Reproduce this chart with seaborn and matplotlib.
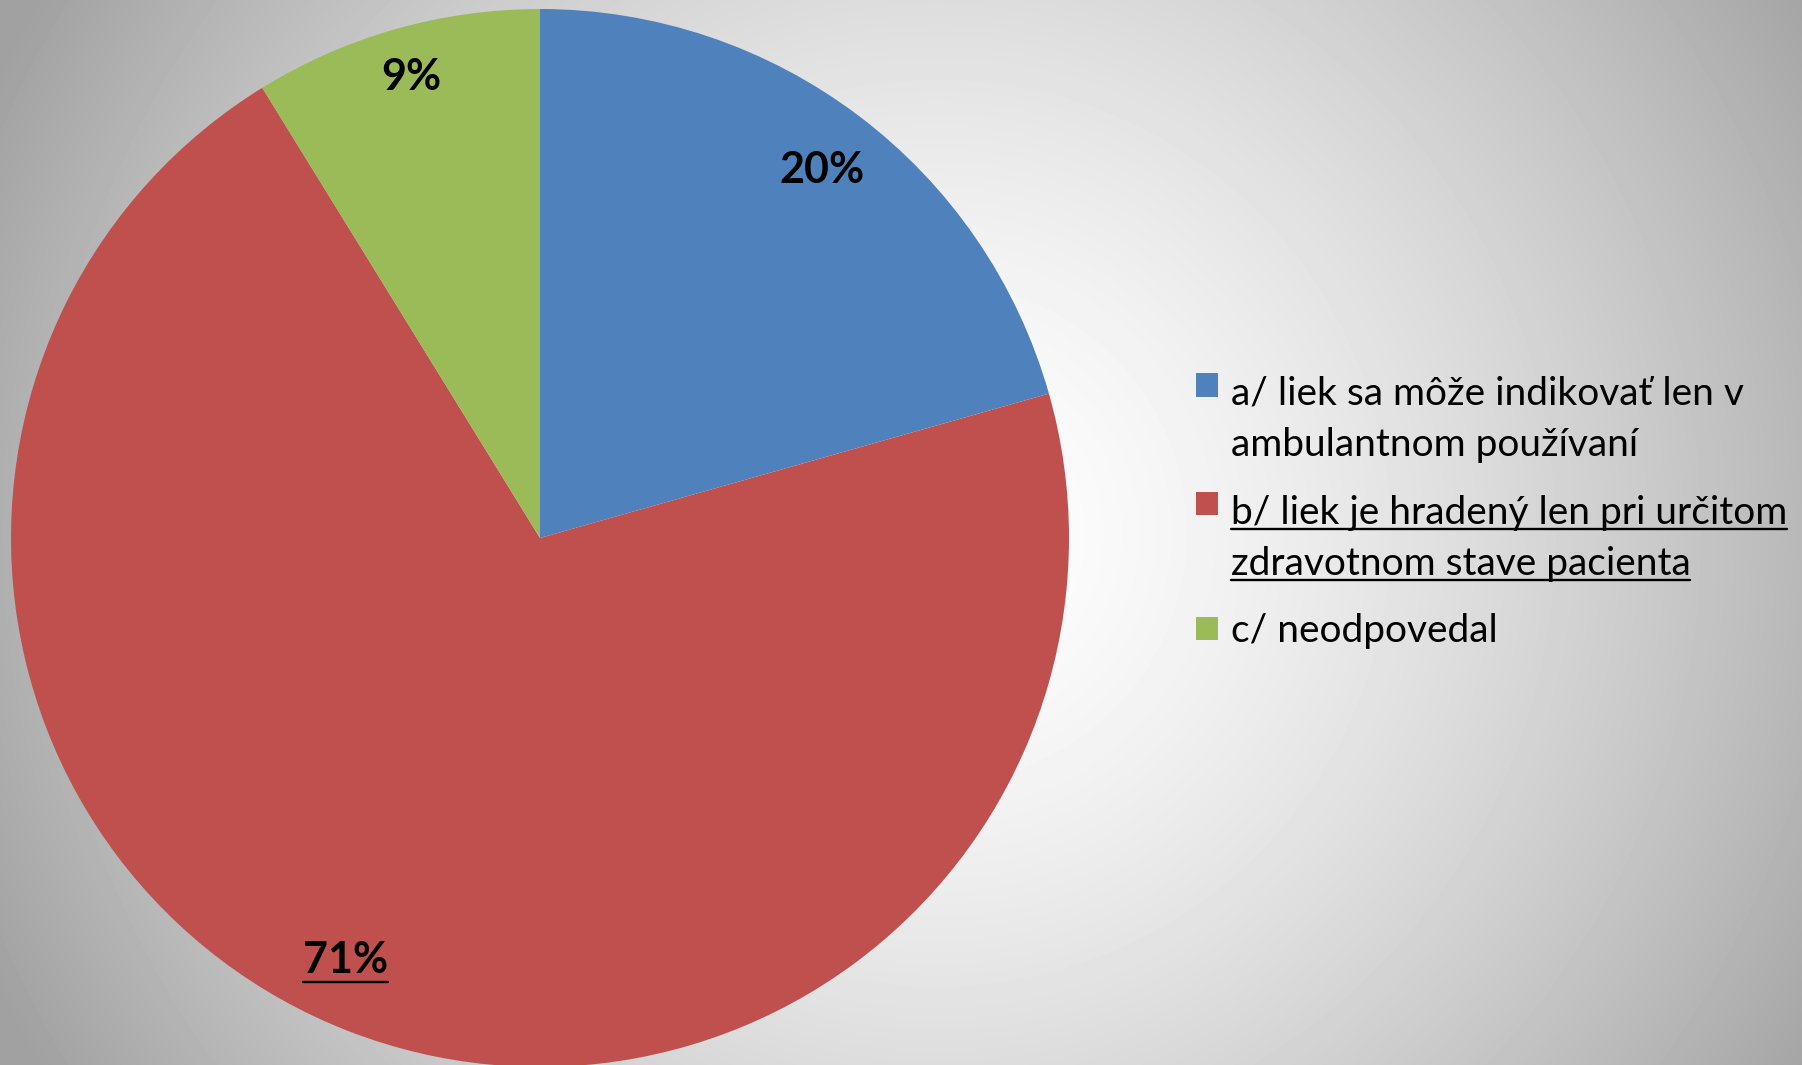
import numpy as np
import matplotlib
matplotlib.use("Agg")
import matplotlib.pyplot as plt
import seaborn as sns
from matplotlib.patches import Rectangle
from matplotlib.legend_handler import HandlerPatch
from matplotlib.lines import Line2D

# survey answers (legend), slice shares, printed labels
answers = ["a/ liek sa môže indikovať len v\nambulantnom používaní",
           "b/ liek je hradený len pri určitom\nzdravotnom stave pacienta",
           "c/ neodpovedal"]
shares = [20.6, 70.6, 8.8]
pct_labels = ["20%", "71%", "9%"]
colors = ["#4F81BD", "#C0504D", "#9BBB59"]

sns.set_theme(style="white")
plt.rcParams["font.family"] = ["Lato", "DejaVu Sans"]

W, H = 1802, 1065
fig = plt.figure(figsize=(W / 100, H / 100), dpi=100)

# radial grey background, white in the middle
bg = fig.add_axes([0, 0, 1, 1], zorder=0)
yy, xx = np.mgrid[0:H, 0:W]
d = np.hypot(xx - W * 0.52, yy - H / 2) / np.hypot(W / 2, H / 2)
shade = 1 - (1 - 0.63) * np.clip(d, 0, 1) ** 1.5
bg.imshow(shade, cmap="gray", vmin=0, vmax=1, aspect="auto",
          extent=[0, 1, 0, 1], interpolation="bilinear")
bg.axis("off")

# pie
cx, cy, r = 540, 538, 529
ax = fig.add_axes([(cx - r) / W, (H - cy - r) / H, 2 * r / W, 2 * r / H], zorder=1)
ax.patch.set_alpha(0)
lab_iter = iter(pct_labels)
wedges, _, autotexts = ax.pie(shares, colors=colors, startangle=90, counterclock=False,
                              radius=1, autopct=lambda p: next(lab_iter), pctdistance=0.88,
                              textprops=dict(fontsize=31, fontweight="bold", color="black"),
                              wedgeprops=dict(linewidth=0))
ax.set_xlim(-1, 1)
ax.set_ylim(-1, 1)

# label placement (radius, angle in degrees) as in the original
label_pos = [(0.876, 52.6), (0.878, 245.3), (0.905, 105.6)]
for t, (lr, la) in zip(autotexts, label_pos):
    t.set_position((lr * np.cos(np.radians(la)), lr * np.sin(np.radians(la))))


class TopSquare(HandlerPatch):
    # square aligned with the first line of a wrapped label
    def __init__(self, shift):
        super().__init__()
        self.shift = shift

    def create_artists(self, legend, orig_handle, xdescent, ydescent,
                       width, height, fontsize, trans):
        p = Rectangle((-xdescent, -ydescent + self.shift), width, height,
                      facecolor=orig_handle.get_facecolor(), edgecolor="none",
                      transform=trans)
        return [p]


fs = 28
ls = 1.52
shift = 0.5 * ls * 1.2 * fs
hmap = {wedges[0]: TopSquare(shift), wedges[1]: TopSquare(shift), wedges[2]: TopSquare(0)}
leg = fig.legend(wedges, answers, loc="upper left", bbox_to_anchor=(1196 / W, 1 - 376 / H),
                 frameon=False, fontsize=fs, handlelength=0.56, handleheight=0.56,
                 handletextpad=0.33, labelspacing=0.81, borderpad=0, borderaxespad=0,
                 handler_map=hmap)
for t in leg.get_texts():
    t.set_linespacing(ls)
    t.set_color("black")

# underlines
fig.canvas.draw()
rend = fig.canvas.get_renderer()


def hline(x0, x1, y):
    fig.add_artist(Line2D([x0 / W, x1 / W], [y / H, y / H], transform=fig.transFigure,
                          color="black", linewidth=1.7))


def text_size(s):
    tmp = fig.text(0, 0, s, fontsize=fs, linespacing=ls)
    e = tmp.get_window_extent(rend)
    tmp.remove()
    return e.width, e.height


tb = leg.get_texts()[1]
bb = tb.get_window_extent(rend)
lines = answers[1].split("\n")
lh = bb.height / len(lines)
pitch = text_size("Ag\nAg")[1] - text_size("Ag")[1]
y_first = bb.y1 - 0.8 * lh
for i, line in enumerate(lines):
    w = text_size(line)[0]
    hline(bb.x0, bb.x0 + w, y_first - i * pitch)

b71 = autotexts[1].get_window_extent(rend)
hline(b71.x0, b71.x1, b71.y0 + b71.height * 0.5 - 22)

fig.savefig("out.png", dpi=100)
